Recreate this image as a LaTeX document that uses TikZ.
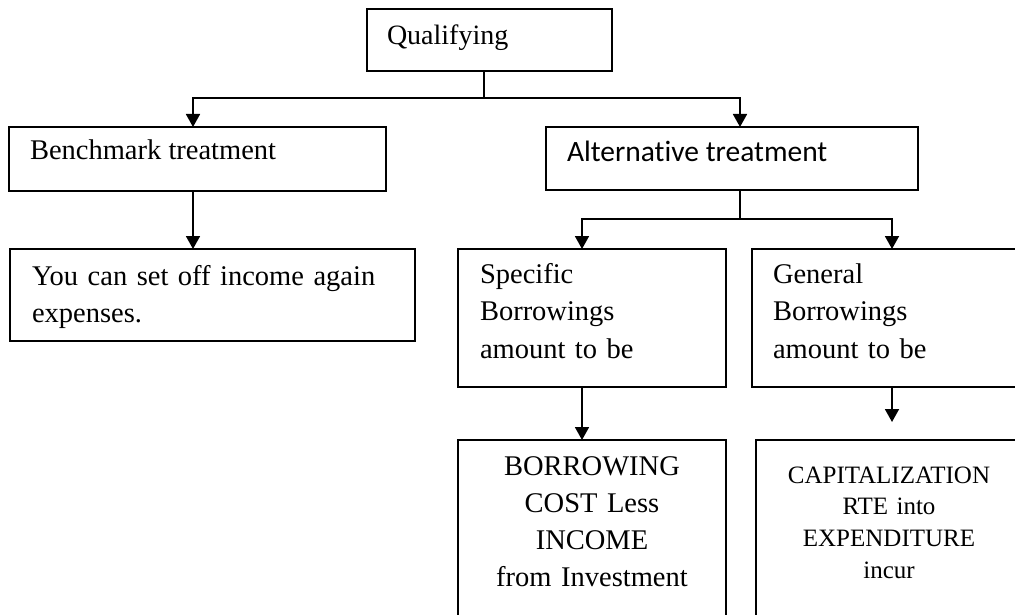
\documentclass[tikz,border=0pt]{standalone}
\usepackage{fontspec}
\setmainfont{Liberation Serif}
\newfontfamily\calibrifont[Ligatures=NoCommon]{Carlito}
\usetikzlibrary{arrows.meta,calc}
\newcommand\fsz[2]{\fontsize{#1}{#2}\selectfont}
\begin{document}
\begin{tikzpicture}[x=1pt,y=-1pt,
  box/.style={draw, line width=1.8pt, inner sep=0pt, outer sep=0pt, rectangle},
  arr/.style={line width=1.8pt, -{Triangle[width=14pt,length=13pt]}},
  ln/.style={line width=1.8pt},
  txt/.style={inner sep=0pt, outer sep=0pt, anchor=base west, align=left},
  ctxt/.style={inner sep=0pt, outer sep=0pt, anchor=base, align=center},
]
\useasboundingbox (0,0) rectangle (1015,615);
\fill[white] (0,0) rectangle (1015,615);
\clip (0,0) rectangle (1015,615);

% boxes
\node[box, minimum width=245pt, minimum height=62pt] (q) at (489.5,40) {};
\node[box, minimum width=377pt, minimum height=64pt] (bench) at (197.5,159) {};
\node[box, minimum width=372pt, minimum height=63pt] (alt) at (732,158.5) {};
\node[box, minimum width=405pt, minimum height=92pt] (setoff) at (212.5,295) {};
\node[box, minimum width=268pt, minimum height=138pt] (spec) at (592,318) {};
\node[box, minimum width=270pt, minimum height=138pt] (gen) at (887,318) {};
\node[box, minimum width=268pt, minimum height=210pt] (borrow) at (592,545) {};
\node[box, minimum width=266pt, minimum height=210pt] (cap) at (889,545) {};

% texts
\node[txt, font=\fsz{28}{34}] (tq) at (387,45) {Qualifying};
\node[txt, font=\fsz{28.5}{34}] (tb) at (30,160) {Benchmark treatment};
\node[txt, font=\calibrifont\fsz{29.5}{34}] (ta) at (567,162) {Alternative treatment};
\node[txt, font=\fsz{28.5}{37.5}, text width=380pt] (ts) at (32,285) {You can set off income again\\expenses.};
\node[txt, font=\fsz{28.5}{37.5}, text width=240pt] (tsp) at (480,283) {Specific\\Borrowings\\amount to be};
\node[txt, font=\fsz{28.5}{37.5}, text width=240pt] (tg) at (773,283) {General\\Borrowings\\amount to be};
\node[ctxt, font=\fsz{28.5}{37.3}, text width=268pt] (tbo) at (592,475) {BORROWING\\COST Less\\INCOME\\from Investment};
\node[ctxt, font=\fsz{25}{31.7}, text width=266pt] (tc) at (889,483) {CAPITALIZATION\\RTE into\\EXPENDITURE\\incur};

% connectors
\coordinate (qs) at (484,98);
\draw[ln] (q.south -| qs) -- (qs);
\draw[arr] (qs) -| ([xshift=-4.5pt]bench.north);
\draw[arr] (qs) -| ([xshift=8pt]alt.north);
\draw[arr] ([xshift=-4.5pt]bench.south) -- ([xshift=-4.5pt]bench.south |- setoff.north);

\coordinate (as) at (740,219);
\draw[ln] (alt.south -| as) -- (as);
\draw[arr] (as) -| ([xshift=-10pt]spec.north);
\draw[arr] (as) -| ([xshift=5pt]gen.north);
\draw[arr] ([xshift=-10pt]spec.south) -- ([xshift=-10pt]spec.south |- borrow.north);
\coordinate (ge) at (892,422);
\draw[arr] (gen.south -| ge) -- (ge);
\end{tikzpicture}
\end{document}
